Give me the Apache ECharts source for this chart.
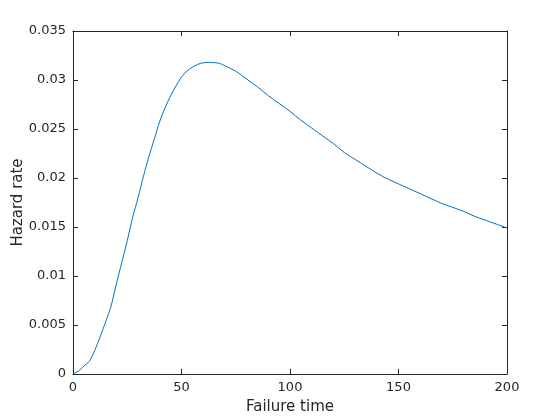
<!DOCTYPE html>
<html><head><meta charset="utf-8">
<script src="https://cdn.jsdelivr.net/npm/echarts@6/dist/echarts.min.js"></script>
<style>html,body{margin:0;padding:0;background:#fff}#c{width:560px;height:420px}</style>
</head><body><div id="c"></div>
<script>
const times = [0,2.5,5,7.5,10,12.5,15,17.5,20,22.5,25,27.5,30,32.5,35,37.5,40,42.5,45,47.5,50,52.5,55,57.5,60,62.5,65,67.5,70,75,80,85,90,95,100,105,110,115,120,125,130,135,140,145,150,155,160,165,170,175,180,185,190,195,200];
const hazard = [0,0.0003,0.0008,0.0013,0.0024,0.0038,0.0053,0.0069,0.0092,0.0114,0.0136,0.0160,0.0180,0.0202,0.0222,0.0240,0.0258,0.0272,0.0284,0.0294,0.0303,0.0309,0.0313,0.0316,0.03175,0.0318,0.03177,0.0317,0.03145,0.0309,0.0301,0.0293,0.0284,0.0276,0.0268,0.0259,0.0251,0.0243,0.0235,0.0226,0.0219,0.0212,0.0205,0.0199,0.0194,0.0189,0.0184,0.0179,0.0174,0.0170,0.0166,0.0161,0.0157,0.0153,0.0149];
const xName = 'Failure time';
const yName = 'Hazard rate';

const chart = echarts.init(document.getElementById('c'));
const axisColor = '#262626';
const font = 'DejaVu Sans';
chart.setOption({
  animation: false,
  grid: {left: 73, right: 53, top: 31, bottom: 46, containLabel: false, outerBoundsMode: 'none'},
  xAxis: [{
    type: 'value', min: 0, max: 200, interval: 50,
    name: xName, nameLocation: 'middle', nameGap: 26, nameMoveOverlap: false,
    nameTextStyle: {color: axisColor, fontSize: 15, fontFamily: font},
    axisLine: {show: true, onZero: false, lineStyle: {color: axisColor, width: 1}},
    axisTick: {show: true, inside: true, length: 5, lineStyle: {color: axisColor}},
    axisLabel: {color: axisColor, fontSize: 13, fontFamily: font, margin: 7},
    splitLine: {show: false}
  }, {
    type: 'value', position: 'top', min: 0, max: 200, interval: 50,
    axisLine: {show: true, onZero: false, lineStyle: {color: axisColor, width: 1}},
    axisTick: {show: true, inside: true, length: 5, lineStyle: {color: axisColor}},
    axisLabel: {show: false}, splitLine: {show: false}
  }],
  yAxis: [{
    type: 'value', min: 0, max: 0.035, interval: 0.005,
    name: yName, nameLocation: 'middle', nameGap: 47, nameRotate: 90, nameMoveOverlap: false,
    nameTextStyle: {color: axisColor, fontSize: 15, fontFamily: font},
    axisLine: {show: true, onZero: false, lineStyle: {color: axisColor, width: 1}},
    axisTick: {show: true, inside: true, length: 5, lineStyle: {color: axisColor}},
    axisLabel: {color: axisColor, fontSize: 13, fontFamily: font, margin: 7,
      formatter: v => String(parseFloat(v.toFixed(4)))},
    splitLine: {show: false}
  }, {
    type: 'value', position: 'right', min: 0, max: 0.035, interval: 0.005,
    axisLine: {show: true, onZero: false, lineStyle: {color: axisColor, width: 1}},
    axisTick: {show: true, inside: true, length: 5, lineStyle: {color: axisColor}},
    axisLabel: {show: false}, splitLine: {show: false}
  }],
  series: [{
    type: 'line', xAxisIndex: 0, yAxisIndex: 0,
    data: times.map((t, i) => [t, hazard[i]]),
    showSymbol: false, smooth: 0.3,
    lineStyle: {color: '#0072BD', width: 1}
  }]
});
</script></body></html>
